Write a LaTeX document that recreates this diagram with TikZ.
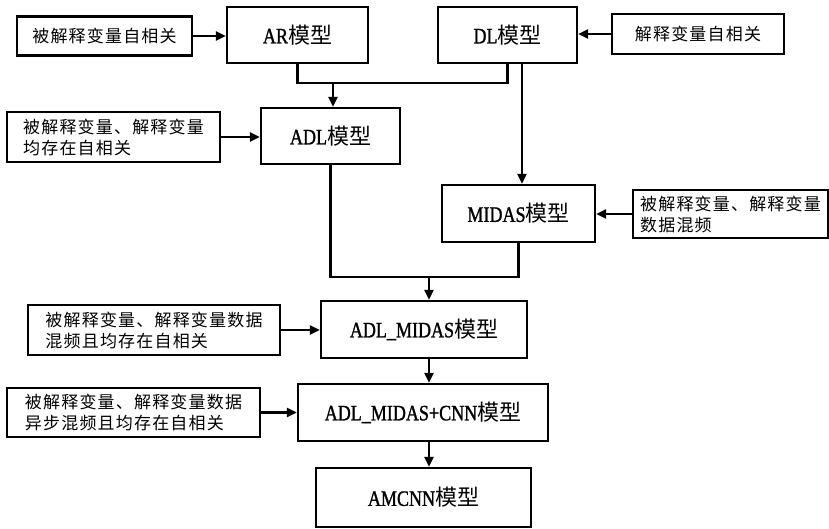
\documentclass[tikz,border=0pt]{standalone}
\usepackage{fontspec}
\setmainfont{Liberation Serif}[FakeStretch=0.82,FakeBold=1.2]
\newfontfamily\cjk{Noto Sans CJK SC}
\newfontfamily\cjkl{Noto Sans CJK SC}[LetterSpace=7]
\usetikzlibrary{arrows.meta}
\tikzset{
  model/.style={draw, line width=2.2pt, inner sep=0pt, font=\fontsize{22}{24}\selectfont},
  cond/.style={draw, line width=2.2pt, inner sep=0pt, align=left, font=\fontsize{17}{21}\selectfont\cjkl},
  arr/.style={-{Triangle[length=10pt,width=9pt]}, line width=2.2pt},
  ln/.style={line width=2.2pt}
}
\begin{document}
\begin{tikzpicture}[x=1pt,y=-1pt]
\useasboundingbox (0,0) rectangle (829,529);
\node[cond, minimum width=175, minimum height=39] (c1) at (104.5,36) {被解释变量自相关};
\node[model, minimum width=141, minimum height=56] (ar) at (297.5,35) {AR{\cjk 模型}};
\node[model, minimum width=139, minimum height=56] (dl) at (507.5,35) {DL{\cjk 模型}};
\node[cond, minimum width=172, minimum height=40] (c2) at (698,34) {解释变量自相关};
\node[model, minimum width=139, minimum height=56] (adl) at (330.5,136) {ADL{\cjk 模型}};
\node[cond, minimum width=213, minimum height=50] (c3) at (113.5,137) {被解释变量、解释变量\\均存在自相关};
\node[model, minimum width=153, minimum height=57] (midas) at (518.5,213.5) {MIDAS{\cjk 模型}};
\node[cond, minimum width=195, minimum height=48] (c4) at (730.5,214) {被解释变量、解释变量\\数据混频};
\node[model, minimum width=206, minimum height=57] (adlm) at (424,329.5) {ADL\_MIDAS{\cjk 模型}};
\node[cond, minimum width=252, minimum height=50] (c5) at (154,330) {被解释变量、解释变量数据\\混频且均存在自相关};
\node[model, minimum width=250, minimum height=57] (cnn) at (423,412.5) {ADL\_MIDAS+CNN{\cjk 模型}};
\node[cond, minimum width=253, minimum height=49] (c6) at (133.5,412.5) {被解释变量、解释变量数据\\异步混频且均存在自相关};
\node[model, minimum width=215, minimum height=59] (amcnn) at (423.5,497.5) {AMCNN{\cjk 模型}};

\coordinate (j1) at (333,83);
\coordinate (j2) at (429,277);
\coordinate (d1) at ([xshift=14.5pt]dl.south);

\draw[ln] (ar.south) |- (j1) -| (dl.south);
\draw[arr] (j1) -- (j1 |- adl.north);
\draw[arr] (d1) -- (d1 |- midas.north);
\draw[ln] (adl.south) |- (j2) -| (midas.south);
\draw[arr] (j2) -- (j2 |- adlm.north);
\draw[arr] (adlm.south -| j2) -- (cnn.north -| j2);
\draw[arr] (cnn.south -| j2) -- (amcnn.north -| j2);

\draw[arr] (c1.east) -- (c1.east -| ar.west);
\draw[arr] (c2.west) -- (c2.west -| dl.east);
\draw[arr] (c3.east) -- (c3.east -| adl.west);
\draw[arr] (c4.west) -- (c4.west -| midas.east);
\draw[arr] (c5.east) -- (c5.east -| adlm.west);
\draw[arr] (c6.east) -- (c6.east -| cnn.west);
\end{tikzpicture}
\end{document}
